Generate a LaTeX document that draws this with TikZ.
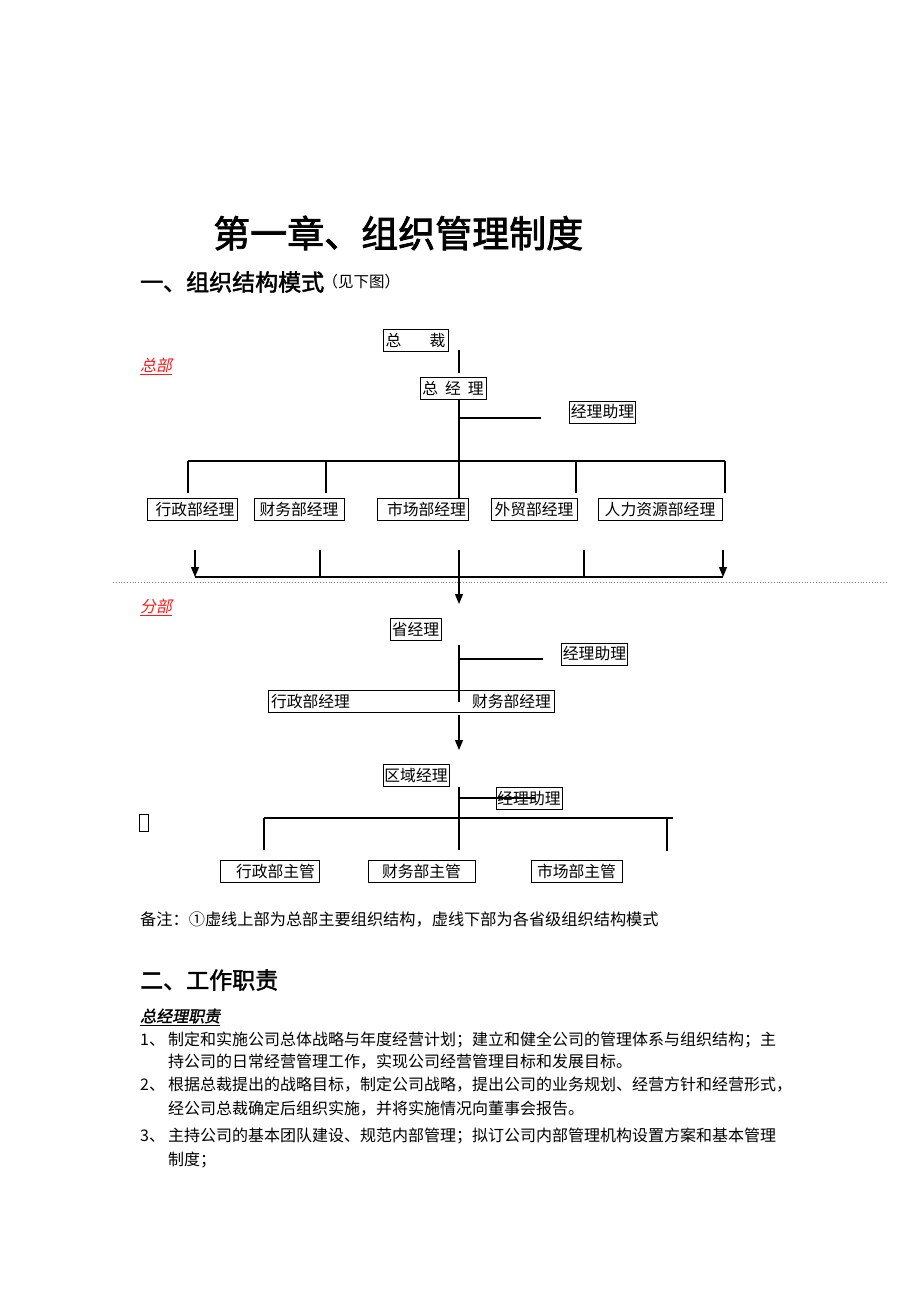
\documentclass[tikz,border=0pt]{standalone}
\usepackage{fontspec}
\setmainfont{Noto Sans CJK SC}
\newfontfamily\heifont[FakeBold=2]{Noto Sans CJK SC}
\newfontfamily\itfont[FakeSlant=0.2]{Noto Sans CJK SC}
\newfontfamily\bitfont[FakeSlant=0.2,FakeBold=1.5]{Noto Sans CJK SC}
\usepackage{tikz}
\usetikzlibrary{positioning, arrows.meta, calc}
\definecolor{hqred}{HTML}{FF1A1A}
\tikzset{
    orgbox/.style={draw, line width=0.7pt, minimum height=22pt, inner sep=1.5pt,
        font=\fontsize{15.8}{16}\selectfont},
    link/.style={line width=1.1pt},
    arrowlink/.style={line width=1.1pt, -{Triangle[length=10pt,width=8pt]}},
    txt/.style={anchor=west, inner sep=0pt, font=\fontsize{16}{18}\selectfont},
}
\begin{document}
\begin{tikzpicture}[x=1pt, y=-1pt]
    \useasboundingbox (0,0) rectangle (920,1302);
    \coordinate (spine) at (459,0);

    % headings
    \node[txt, font=\heifont\fontsize{37}{40}\selectfont] (title) at (213,233) {第一章、组织管理制度};
    \node[txt, font=\heifont\fontsize{23}{26}\selectfont] (sec1) at (140,282) {一、组织结构模式};
    \node[txt, font=\fontsize{15.5}{16}\selectfont, right=-2pt of sec1] (see) {（见下图）};

    % head office
    \node[txt, font=\itfont\fontsize{16}{18}\selectfont, text=hqred] (hq) at (140,365) {总部};
    \draw[hqred, line width=0.6pt] ([yshift=-1.5pt]hq.south west) -- ([yshift=-1.5pt]hq.south east);

    \node[orgbox, minimum width=65pt] (pres) at (415.5,340.5) {总\hspace{28pt}裁};
    \node[orgbox, minimum width=66pt] (gm) at (453,388.5) {总\hspace{7pt}经\hspace{7pt}理};
    \node[orgbox, minimum width=65pt] (gmas) at (602.5,412) {经理助理};

    \foreach \nm/\cx/\bw/\txt in {
        dadm/192/90/\hspace{6pt}行政部经理,
        dfin/299/90/财务部经理\hspace{8pt},
        dmkt/422.5/91/\hspace{8pt}市场部经理,
        dtrd/534/86/外贸部经理,
        dhr/660/124/人力资源部经理\hspace{10pt}}{
        \node[orgbox, minimum width=\bw] (\nm) at (\cx,509) {\txt};
    }

    % connectors of head office
    \coordinate (sp1) at (459,350);
    \coordinate (sp2) at (459,373);
    \draw[link] (sp1) -- (sp2);
    \draw[link] (gm.south -| spine) -- (dmkt.north -| spine);
    \coordinate (ja) at (459,418);
    \coordinate (ea) at (541,418);
    \draw[link] (ja) -- (ea);
    \coordinate (bl) at (188,461);
    \coordinate (br) at (725,461);
    \draw[link] (bl) -- (br);
    \foreach \x in {188,326,576,725}
    {
        \draw[link] (\x,461) -- (\x,493);
    }

    % collecting line
    \coordinate (cl) at (195,577);
    \coordinate (cr) at (723,577);
    \draw[link] (cl) -- (cr);
    \draw[arrowlink] (195,550) -- (cl);
    \draw[arrowlink] (723,550) -- (cr);
    \foreach \x in {320,459,584}
    {
        \draw[link] (\x,550) -- (\x,577);
    }
    \coordinate (cm) at (459,577);
    \coordinate (down1) at (459,604);
    \draw[arrowlink] (cm) -- (down1);

    % border between head office and branches
    \draw[gray, dotted, line width=0.8pt] (113,582) -- (888,582);

    % branch office
    \node[txt, font=\itfont\fontsize{16}{18}\selectfont, text=hqred] (br1) at (140,606) {分部};
    \draw[hqred, line width=0.6pt] ([yshift=-1.5pt]br1.south west) -- ([yshift=-1.5pt]br1.south east);

    \node[orgbox, minimum width=51pt] (prov) at (415.5,629) {省经理};
    \node[orgbox, minimum width=66pt] (pas) at (594.5,654) {经理助理};
    \node[orgbox, minimum width=286pt] (pdept) at (411,701) {\makebox[280pt]{行政部经理\hfill 财务部经理}};
    \draw[link] (459,645) -- (459,702);
    \draw[link] (459,659) -- (543,659);
    \coordinate (down2) at (459,750);
    \draw[arrowlink] (pdept.south -| spine) ++(0,3) -- (down2);

    \node[orgbox, minimum width=66pt] (area) at (416,775) {区域经理};
    \node[orgbox, minimum width=66pt] (aas) at (529,798.5) {经理助理};
    \draw[link] (459,787) -- (459,850);
    \draw[link] (459,798) -- (535,798);
    \draw[link] (264,818) -- (673,818);
    \draw[link] (264,818) -- (264,850);
    \draw[link] (667,818) -- (667,851);

    \foreach \nm/\cx/\bw/\txt in {
        sadm/269.5/99/\hspace{12pt}行政部主管,
        sfin/421.5/107/财务部主管\hspace{16pt},
        smkt/576.5/91/市场部主管\hspace{8pt}}{
        \node[orgbox, minimum width=\bw] (\nm) at (\cx,871) {\txt};
    }

    \node[draw, line width=0.5pt, minimum width=9pt, minimum height=17pt, inner sep=0pt] (tofu) at (144,823) {};

    % remarks and duties
    \node[txt, font=\fontsize{16.2}{18}\selectfont] (note) at (140,919) {备注：①虚线上部为总部主要组织结构，虚线下部为各省级组织结构模式};
    \node[txt, font=\heifont\fontsize{23}{26}\selectfont] (sec2) at (140,980) {二、工作职责};
    \node[txt, font=\bitfont\fontsize{16}{18}\selectfont] (gmduty) at (140,1016) {总经理职责};
    \draw[line width=0.6pt] ([yshift=-1.5pt]gmduty.south west) -- ([yshift=-1.5pt]gmduty.south east);

    \foreach \nm/\y/\num in {n1/1040/1、, n2/1085/2、, n3/1136/3、}
    {
        \node[txt] (\nm) at (140,\y) {\num};
    }
    \foreach \nm/\y/\txt in {
        l1/1040/制定和实施公司总体战略与年度经营计划；建立和健全公司的管理体系与组织结构；主,
        l1b/1062/持公司的日常经营管理工作，实现公司经营管理目标和发展目标。,
        l2/1085/根据总裁提出的战略目标，制定公司战略，提出公司的业务规划、经营方针和经营形式，,
        l2b/1109/经公司总裁确定后组织实施，并将实施情况向董事会报告。,
        l3/1136/主持公司的基本团队建设、规范内部管理；拟订公司内部管理机构设置方案和基本管理,
        l3b/1160/制度；}
    {
        \node[txt] (\nm) at (168,\y) {\txt};
    }
\end{tikzpicture}
\end{document}
